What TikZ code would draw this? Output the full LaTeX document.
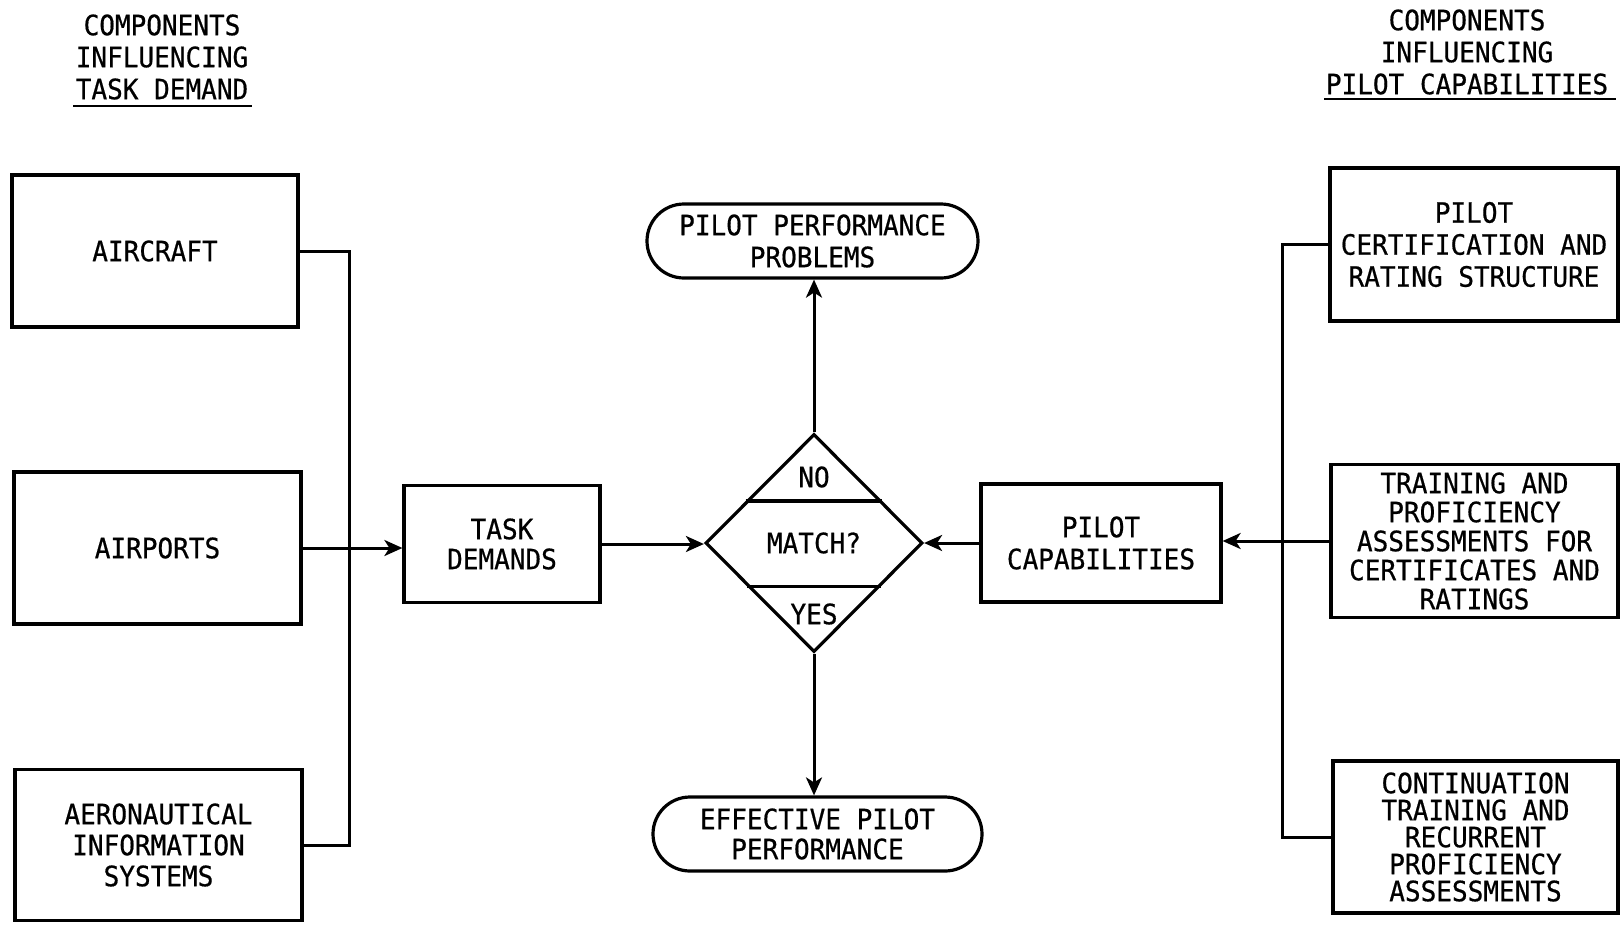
\documentclass[tikz,border=0pt]{standalone}
\usepackage{fontspec}
\newfontfamily\lettering[FakeStretch=0.93,FakeBold=0.6]{DejaVu Sans Mono}
\newcommand\lfont[1]{\lettering\fontsize{28}{#1}\selectfont}
\usetikzlibrary{arrows.meta,shapes.geometric,calc}
\begin{document}
\begin{tikzpicture}[x=1pt,y=-1pt,
  box/.style={draw, line width=3.2pt, align=center, inner sep=0pt, font={\lfont{32}}},
  term/.style={box, rounded corners=37pt},
  lbl/.style={align=center, inner sep=0pt, font={\lfont{32}}},
  conn/.style={line width=3pt},
  arr/.style={conn, -{Stealth[length=18pt,width=16pt,inset=5pt]}},
  uline/.style={line width=2.8pt}]
\useasboundingbox (0,0) rectangle (1620,924);

% titles
\node[lbl] (tleft) at (162,57) {COMPONENTS\\INFLUENCING\\TASK DEMAND};
\node[lbl] (tright) at (1467,52) {COMPONENTS\\INFLUENCING\\PILOT CAPABILITIES};
\draw[uline] (73,106) -- (252,106);
\draw[uline] (1324,99) -- (1616,99);

% left column
\node[box, minimum width=286pt, minimum height=152pt] (aircraft) at (155,251) {AIRCRAFT};
\node[box, minimum width=287pt, minimum height=152pt] (airports) at (157.5,548) {AIRPORTS};
\node[box, minimum width=287pt, minimum height=151pt, font={\lfont{31}}] (ais) at (158.5,845) {AERONAUTICAL\\INFORMATION\\SYSTEMS};

% centre
\node[box, minimum width=196pt, minimum height=117pt, font={\lfont{30}}] (td) at (502,544) {TASK\\DEMANDS};
\node[draw, shape=diamond, line width=3.2pt, inner sep=0pt, minimum width=217pt, minimum height=218pt, font={\lfont{32}}] (dia) at (814,543) {MATCH?};
\node[lbl] (no) at (814,477) {NO};
\node[lbl] (yes) at (814,614) {YES};
\draw[line width=3.2pt] ($(dia.north)!0.62!(dia.west)$) -- ($(dia.north)!0.62!(dia.east)$);
\draw[line width=3.2pt] ($(dia.south)!0.61!(dia.west)$) -- ($(dia.south)!0.61!(dia.east)$);
\node[term, minimum width=331pt, minimum height=74pt] (ppp) at (812.5,241) {PILOT PERFORMANCE\\PROBLEMS};
\node[term, minimum width=329pt, minimum height=74pt, font={\lfont{30}}] (epp) at (817.5,834) {EFFECTIVE PILOT\\PERFORMANCE};
\node[box, minimum width=240pt, minimum height=118pt] (pc) at (1101,543) {PILOT\\CAPABILITIES};

% right column
\node[box, minimum width=288pt, minimum height=153pt] (cert) at (1474,244.5) {PILOT\\CERTIFICATION AND\\RATING STRUCTURE};
\node[box, minimum width=287pt, minimum height=153pt, font={\lfont{29}}] (train) at (1474.5,541) {TRAINING AND\\PROFICIENCY\\ASSESSMENTS FOR\\CERTIFICATES AND\\RATINGS};
\node[box, minimum width=285pt, minimum height=152pt, font={\lfont{27}}] (cont) at (1475.5,837) {CONTINUATION\\TRAINING AND\\RECURRENT\\PROFICIENCY\\ASSESSMENTS};

% connectors
\coordinate (lbus) at (349,0);
\coordinate (rbus) at (1282,0);
\draw[conn] (aircraft.east) -| (lbus |- ais.east) -- (ais.east);
\draw[arr] (airports.east) -- (airports.east -| td.west);
\draw[conn] (cert.west) -| (rbus |- cont.west) -- (cont.west);
\draw[arr] (train.west) -- (train.west -| pc.east);
\draw[arr] (td.east) -- (td.east -| dia.west);
\draw[arr] (pc.west) -- (dia.east);
\draw[arr] (dia.north) -- (dia.north |- ppp.south);
\draw[arr] (dia.south) -- (dia.south |- epp.north);
\end{tikzpicture}
\end{document}
